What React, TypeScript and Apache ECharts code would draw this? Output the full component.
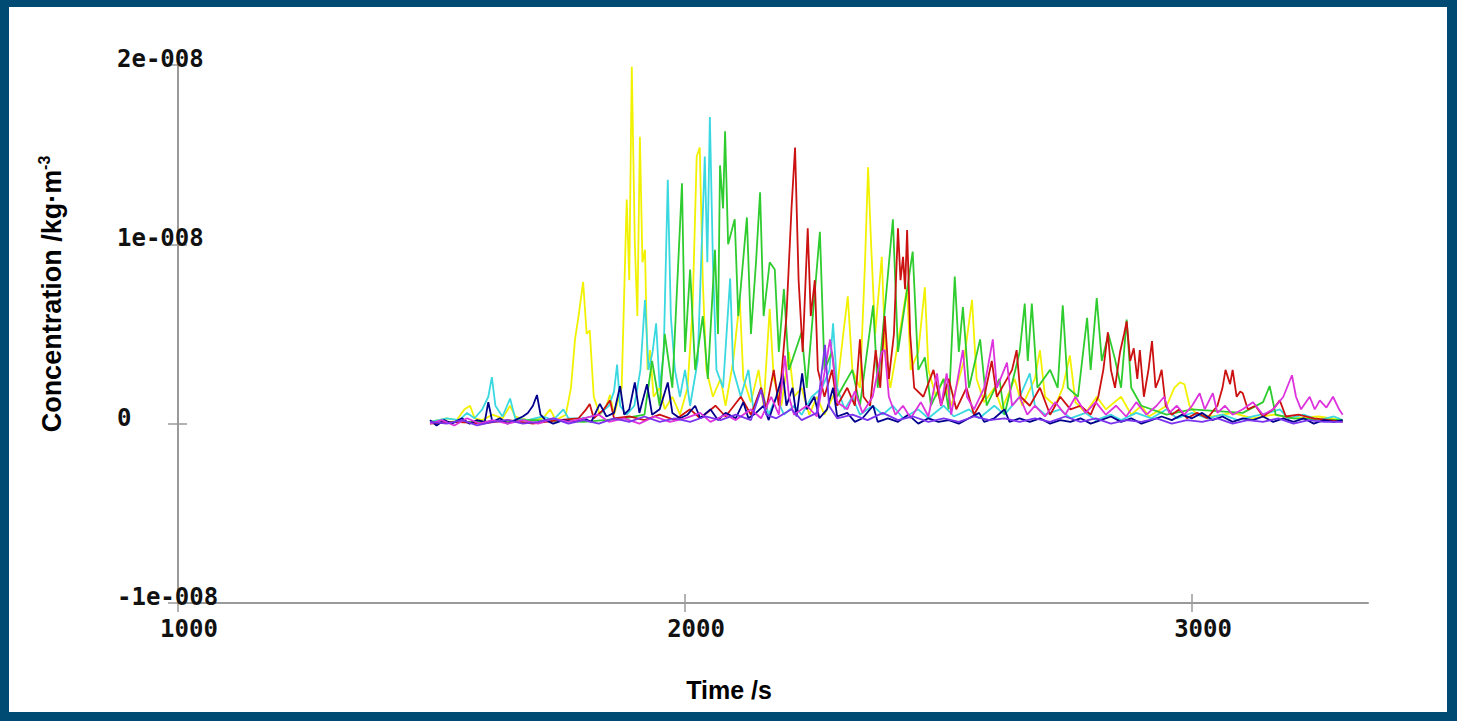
import React, { useEffect, useRef } from "react";
import * as echarts from "echarts";

// Values are in units of 1e-9 kg/m^3, time in seconds
const xTickValues = [1000, 2000, 3000];
const xTickLabels = ["1000", "2000", "3000"];
const yTickValues = [-10, 0, 10, 20];
const yTickLabels = ["-1e-008", "0", "1e-008", "2e-008"];

const yellowData: number[][] = [[1497,0.1],[1530,0.3],[1550,0.2],[1565,0.8],[1576,1.0],[1585,0.3],[1600,0.2],[1620,0.5],[1640,0.3],[1655,1.0],[1665,0.4],[1690,0.2],[1720,0.3],[1734,0.8],[1745,0.2],[1765,0.5],[1775,2.0],[1783,4.7],[1790,6.0],[1799,7.9],[1806,5.0],[1812,5.2],[1820,1.5],[1832,0.5],[1845,1.0],[1852,1.6],[1860,0.5],[1875,2.0],[1885,12.5],[1890,8.0],[1895,19.9],[1901,10],[1906,6],[1911,16.0],[1916,9],[1921,9.7],[1926,3],[1931,4.1],[1938,1.5],[1950,2.0],[1960,0.8],[1975,1.5],[1990,0.5],[2005,2.0],[2015,6.5],[2023,14.9],[2029,15.4],[2035,8.0],[2042,3.0],[2055,1.5],[2070,2.5],[2080,1.0],[2095,3.5],[2108,6.9],[2115,2.5],[2130,1.2],[2145,3.0],[2155,1.0],[2167,6.4],[2175,2.5],[2190,1.0],[2205,4.0],[2215,1.5],[2230,2.0],[2245,0.5],[2260,1.5],[2275,0.5],[2300,2.0],[2312,5.0],[2321,7.1],[2330,3.0],[2345,2.0],[2355,9.0],[2361,14.3],[2367,10.0],[2375,5.0],[2388,9.3],[2395,4.0],[2405,2.0],[2420,4.5],[2438,7.6],[2445,3.0],[2460,4.0],[2473,7.6],[2480,3.0],[2495,1.5],[2510,2.5],[2525,1.0],[2550,3.5],[2566,6.9],[2575,2.5],[2590,1.2],[2610,2.0],[2625,0.8],[2650,2.5],[2665,1.0],[2690,2.5],[2700,4.1],[2710,1.5],[2730,1.0],[2745,2.0],[2759,3.8],[2770,1.2],[2790,0.6],[2812,1.5],[2830,0.8],[2860,1.5],[2880,0.5],[2900,1.0],[2915,0.4],[2950,1.0],[2965,2.0],[2976,2.3],[2985,2.2],[2995,1.0],[3010,0.5],[3040,0.4],[3080,0.6],[3120,0.3],[3160,0.5],[3200,0.3],[3250,0.4],[3297,0.2]];

const cyanData: number[][] = [[1497,0.1],[1530,0.3],[1555,0.2],[1570,0.6],[1585,0.3],[1600,0.8],[1612,1.5],[1619,2.6],[1626,1.0],[1640,0.4],[1655,1.4],[1665,0.3],[1690,0.2],[1720,0.4],[1740,0.2],[1760,0.8],[1770,0.3],[1800,0.3],[1830,0.5],[1850,1.0],[1860,1.8],[1866,3.3],[1872,1.0],[1885,0.5],[1900,1.0],[1912,3.0],[1921,6.9],[1928,3.0],[1936,4.0],[1943,5.6],[1950,2.0],[1958,4.0],[1966,13.6],[1972,6.0],[1980,3.0],[1990,1.5],[2000,3.0],[2010,1.0],[2025,3.5],[2039,14.9],[2044,9.0],[2049,17.1],[2055,9.0],[2062,3.0],[2075,2.0],[2089,8.1],[2095,3.0],[2110,1.5],[2125,3.0],[2135,0.8],[2150,2.0],[2165,0.5],[2180,1.5],[2195,0.5],[2215,1.0],[2230,0.5],[2250,1.5],[2270,2.0],[2285,3.0],[2292,5.6],[2300,2.0],[2315,0.8],[2330,1.5],[2345,0.5],[2370,1.0],[2390,0.5],[2410,1.0],[2430,0.3],[2460,0.8],[2480,0.3],[2510,1.0],[2530,0.4],[2560,0.8],[2580,0.3],[2610,1.0],[2630,0.5],[2660,1.5],[2680,2.8],[2690,1.0],[2710,0.5],[2740,0.8],[2760,0.3],[2790,0.6],[2810,0.2],[2840,0.5],[2860,0.2],[2890,0.6],[2920,0.3],[2950,0.8],[2970,0.3],[3000,0.6],[3030,0.3],[3060,0.5],[3090,0.2],[3120,0.4],[3150,0.6],[3173,0.8],[3190,0.3],[3220,0.5],[3250,0.2],[3280,0.4],[3297,0.2]];

const greenData: number[][] = [[1497,0.1],[1600,0.1],[1700,0.2],[1800,0.1],[1880,0.3],[1920,0.5],[1935,3.5],[1950,1.0],[1960,5.0],[1975,2.0],[1994,13.4],[2000,4.0],[2010,8.6],[2020,3.0],[2035,6.0],[2045,2.5],[2059,9.7],[2065,5],[2069,14.4],[2075,12],[2079,16.3],[2085,10],[2098,11.4],[2105,6],[2122,11.5],[2130,5],[2140,9],[2148,12.9],[2155,6],[2167,9],[2177,8.6],[2185,4],[2195,7.5],[2205,3],[2230,5.1],[2240,2],[2266,10.7],[2275,3],[2290,4],[2300,1.5],[2330,3],[2345,1],[2371,6.6],[2380,2],[2410,11.4],[2420,4],[2449,9.6],[2460,3],[2473,3.7],[2485,1],[2510,2.5],[2520,0.8],[2532,8.2],[2540,4],[2548,6.5],[2560,2],[2582,4.7],[2595,1],[2620,2.5],[2630,0.5],[2660,4],[2670,6.7],[2676,3.5],[2684,6.7],[2695,2],[2720,3],[2735,2],[2745,6.6],[2755,2],[2775,1.5],[2793,5.9],[2800,3],[2812,7.0],[2822,3.5],[2835,5.0],[2848,3.6],[2860,2],[2871,5.8],[2880,2],[2900,1],[2950,0.5],[3000,0.8],[3100,0.6],[3140,1.2],[3153,2.1],[3165,0.5],[3200,0.3],[3297,0.2]];

const redData: number[][] = [[1497,0],[1550,0.1],[1600,0],[1650,0.2],[1700,0],[1750,0.2],[1790,0.3],[1805,0.8],[1812,1.1],[1820,0.3],[1840,0.8],[1852,1.3],[1860,0.3],[1890,0.4],[1920,0.2],[1950,0.5],[1980,0.2],[2010,0.8],[2030,0.3],[2060,1.0],[2080,0.4],[2110,1.5],[2130,0.5],[2150,2.0],[2160,0.8],[2175,3.0],[2185,1.0],[2200,6.0],[2210,12.0],[2217,15.4],[2224,8.0],[2232,4.0],[2242,10.9],[2248,6.0],[2256,8.0],[2262,3.0],[2275,1.5],[2290,3.0],[2300,1.0],[2320,2.0],[2335,1.0],[2345,4.7],[2352,1.5],[2365,1.0],[2376,4.1],[2385,2.0],[2394,6.0],[2402,2.5],[2412,5.0],[2420,10.9],[2425,8.0],[2430,9.3],[2434,7.5],[2438,10.8],[2444,5.0],[2452,2.0],[2470,1.5],[2490,3.0],[2505,1.0],[2520,2.5],[2535,0.8],[2555,2.0],[2570,0.5],[2590,1.5],[2605,3.5],[2615,1.5],[2635,2.5],[2645,3.0],[2654,4.1],[2662,1.5],[2680,1.0],[2700,2.0],[2720,0.5],[2740,1.5],[2760,0.8],[2780,1.0],[2800,0.5],[2815,1.5],[2825,3.0],[2834,5.1],[2840,3.0],[2848,2.0],[2858,4.0],[2866,5.0],[2871,5.7],[2878,3.5],[2885,4.2],[2892,2.5],[2897,4.1],[2905,1.5],[2914,3.0],[2921,4.6],[2928,2.0],[2935,2.5],[2940,3.0],[2948,1.0],[2960,0.5],[2975,0.8],[2990,0.3],[3010,0.6],[3030,0.3],[3050,1.0],[3060,2.0],[3066,3.0],[3075,2.2],[3080,3.0],[3088,1.5],[3095,1.8],[3100,1.7],[3110,0.8],[3125,1.0],[3140,0.4],[3160,0.8],[3173,1.3],[3185,0.4],[3210,0.5],[3240,0.3],[3270,0.2],[3297,0.1]];

const navyData: number[][] = [[1497,0.2],[1510,-0.1],[1525,0.2],[1540,0],[1560,0.3],[1575,0],[1590,0.2],[1605,0.1],[1612,1.2],[1620,0.1],[1635,0.3],[1650,0],[1665,0.2],[1680,0.4],[1690,0.6],[1700,1.0],[1708,1.6],[1715,0.5],[1725,0.2],[1740,0],[1760,0.2],[1780,0.1],[1800,0.3],[1815,0.1],[1832,1.1],[1845,0.4],[1860,0.6],[1872,2.1],[1880,0.5],[1890,0.8],[1901,2.3],[1910,0.6],[1925,2.2],[1935,0.5],[1950,0.8],[1966,2.3],[1975,0.6],[1990,0.3],[2005,0.5],[2020,1.0],[2030,0.3],[2050,0.8],[2065,0.2],[2080,0.6],[2100,0.3],[2115,1.2],[2125,0.3],[2140,0.6],[2155,1.0],[2165,0.2],[2180,1.5],[2193,2.8],[2200,1.0],[2212,2.0],[2220,0.4],[2231,2.8],[2240,0.8],[2255,1.5],[2265,0.3],[2280,0.8],[2292,2.0],[2300,0.4],[2320,0.6],[2335,0.1],[2350,0.3],[2371,1.0],[2380,0.1],[2400,0.3],[2420,0.1],[2440,0.5],[2460,0],[2480,0.3],[2500,0.1],[2520,0.2],[2540,0],[2560,0.3],[2580,0.6],[2590,0.1],[2610,0.3],[2630,0.8],[2640,0.1],[2660,0.3],[2680,0.1],[2700,0.3],[2720,0],[2740,0.2],[2760,0.1],[2780,0.3],[2800,0],[2820,0.2],[2840,0.4],[2860,0.1],[2880,0.3],[2900,0],[2920,0.2],[2940,0.4],[2960,0.2],[2980,0.5],[3000,0.3],[3020,0.6],[3040,0.2],[3060,0.4],[3080,0.1],[3100,0.3],[3120,0.2],[3140,0.4],[3160,0.1],[3180,0.3],[3200,0.1],[3220,0.3],[3240,0],[3260,0.2],[3280,0.1],[3297,0.2]];

const magentaData: number[][] = [[1497,0],[1520,0.2],[1545,-0.1],[1570,0.3],[1595,0],[1620,0.2],[1650,0],[1680,0.2],[1710,0],[1740,0.3],[1770,0.1],[1800,0.3],[1830,0.5],[1850,0.1],[1880,0.3],[1910,0],[1940,0.4],[1970,0.1],[2000,0.3],[2030,0.6],[2050,0.1],[2080,0.5],[2100,0.2],[2130,0.8],[2150,0.3],[2170,1.5],[2185,0.5],[2197,3.8],[2205,1.5],[2215,0.5],[2240,1.0],[2260,0.4],[2276,3.0],[2286,4.7],[2292,3.5],[2300,1.2],[2320,0.8],[2335,1.8],[2350,0.6],[2370,1.5],[2388,4.0],[2394,4.1],[2402,1.5],[2415,0.5],[2430,1.0],[2445,0.3],[2465,1.2],[2480,0.4],[2497,2.8],[2505,1.0],[2516,2.8],[2525,0.5],[2548,4.1],[2556,1.5],[2570,0.8],[2590,2.0],[2607,4.7],[2615,2.0],[2635,3.4],[2645,1.0],[2660,1.5],[2675,0.5],[2690,1.0],[2710,0.4],[2730,1.2],[2750,0.5],[2770,1.5],[2790,0.6],[2810,1.2],[2830,0.5],[2850,1.0],[2870,0.4],[2890,1.2],[2910,0.5],[2930,1.0],[2945,1.5],[2955,0.6],[2970,1.0],[2985,0.5],[3000,1.0],[3015,1.7],[3025,0.8],[3041,1.7],[3050,0.6],[3065,1.0],[3080,0.5],[3100,0.8],[3120,1.2],[3140,0.5],[3160,0.8],[3180,1.5],[3197,2.7],[3205,1.5],[3215,0.8],[3232,1.5],[3242,0.8],[3252,1.3],[3265,0.9],[3278,1.5],[3290,0.8],[3297,0.5]];

const purpleData: number[][] = [[1497,0.1],[1530,0],[1560,0.2],[1590,-0.1],[1620,0.1],[1650,0.2],[1680,0],[1710,0.1],[1740,0.3],[1770,0],[1800,0.2],[1830,0],[1860,0.3],[1890,0.1],[1920,0.4],[1950,0.1],[1980,0.3],[2010,0.1],[2040,0.4],[2070,0.2],[2100,0.5],[2130,0.2],[2150,1.9],[2160,0.5],[2180,0.3],[2210,0.8],[2230,0.2],[2260,0.6],[2276,4.4],[2284,1.0],[2300,0.3],[2330,0.5],[2360,0.2],[2390,0.6],[2420,0.2],[2450,0.4],[2480,0.1],[2510,0.3],[2540,0.1],[2570,0.4],[2600,0.2],[2630,0.3],[2660,0.1],[2690,0.3],[2720,0.1],[2750,0.4],[2780,0.1],[2810,0.3],[2840,0],[2870,0.2],[2900,0.1],[2930,0.3],[2960,0],[2990,0.2],[3020,0.1],[3050,0.3],[3080,0],[3110,0.2],[3140,0.1],[3170,0.3],[3200,0],[3230,0.2],[3260,0.1],[3297,0.1]];

const seriesList = [
  { name: "yellow", data: yellowData, color: "#f2f200" },
  { name: "cyan", data: cyanData, color: "#3ad8e0" },
  { name: "green", data: greenData, color: "#2ecc2e" },
  { name: "red", data: redData, color: "#cc1111" },
  { name: "navy", data: navyData, color: "#00008c" },
  { name: "magenta", data: magentaData, color: "#dd33dd" },
  { name: "purple", data: purpleData, color: "#7a33ee" },
];

const tickFont = '"DejaVu Sans Mono", monospace';
const titleFont = '"Liberation Sans", Arial, sans-serif';

export default function App() {
  const ref = useRef<HTMLDivElement>(null);
  useEffect(() => {
    const chart = echarts.init(ref.current!, null, { renderer: "svg" });
    const axisGray = "#9a9a9a";
    const xCommon = {
      type: "value",
      min: 1000,
      max: 3347,
      splitLine: { show: false },
    };
    const yCommon = {
      type: "value",
      min: -10,
      max: 20,
      interval: 10,
      splitLine: { show: false },
    };
    chart.setOption({
      animation: false,
      backgroundColor: "transparent",
      grid: { left: 178, right: 89, top: 65, bottom: 118, containLabel: false },
      xAxis: [
        {
          ...xCommon,
          position: "bottom",
          axisLine: { show: true, onZero: false, lineStyle: { color: axisGray, width: 2 } },
          axisTick: { show: true, length: 9, customValues: xTickValues, lineStyle: { color: axisGray, width: 1.5 } },
          axisLabel: {
            show: true,
            customValues: xTickValues,
            formatter: (v: number) => xTickLabels[xTickValues.indexOf(v)] ?? "",
            fontFamily: tickFont,
            fontWeight: "bold",
            fontSize: 24,
            color: "#111",
            margin: 14,
            padding: [0, 0, 0, 22],
          },
        },
        {
          ...xCommon,
          position: "bottom",
          axisLine: { show: false, onZero: false },
          axisTick: { show: true, inside: true, length: 9, customValues: xTickValues, lineStyle: { color: axisGray, width: 1.5 } },
          axisLabel: { show: false },
        },
      ],
      yAxis: [
        {
          ...yCommon,
          position: "left",
          axisLine: { show: true, onZero: false, lineStyle: { color: axisGray, width: 2 } },
          axisTick: { show: true, length: 10, lineStyle: { color: axisGray, width: 1.5 } },
          axisLabel: {
            show: true,
            formatter: (v: number) => yTickLabels[yTickValues.indexOf(v)] ?? "",
            fontFamily: tickFont,
            fontWeight: "bold",
            fontSize: 24,
            color: "#111",
            align: "left",
            verticalAlign: "bottom",
            lineHeight: 12,
            margin: 61,
          },
        },
        {
          ...yCommon,
          position: "left",
          axisLine: { show: false, onZero: false },
          axisTick: { show: true, inside: true, length: 9, lineStyle: { color: axisGray, width: 1.5 } },
          axisLabel: { show: false },
        },
      ],
      graphic: [
        {
          type: "text",
          x: 729,
          y: 690,
          style: {
            text: "Time /s",
            fontFamily: titleFont,
            fontWeight: "bold",
            fontSize: 25,
            fill: "#000",
            align: "center",
            verticalAlign: "middle",
          },
        },
        {
          type: "text",
          x: 52,
          y: 294,
          rotation: Math.PI / 2,
          style: {
            text: "{a|Concentration /kg·m}{b|-3}",
            align: "center",
            verticalAlign: "middle",
            fill: "#000",
            rich: {
              a: { fontFamily: titleFont, fontWeight: "bold", fontSize: 27, fill: "#000", lineHeight: 32 },
              b: { fontFamily: titleFont, fontWeight: "bold", fontSize: 16, fill: "#000", lineHeight: 32, verticalAlign: "top" },
            },
          },
        },
      ],
      series: seriesList.map((s) => ({
        name: s.name,
        type: "line",
        xAxisIndex: 0,
        yAxisIndex: 0,
        data: s.data,
        showSymbol: false,
        symbol: "none",
        silent: true,
        lineStyle: { color: s.color, width: 1.8 },
        itemStyle: { color: s.color },
      })),
    });
    return () => chart.dispose();
  }, []);
  return (
    <div style={{ position: "fixed", left: 0, top: 0, width: 1457, height: 721, background: "#004B74" }}>
      <div style={{ position: "absolute", left: 9, top: 7, width: 1438, height: 705, background: "#ffffff" }} />
      <div ref={ref} style={{ position: "absolute", left: 0, top: 0, width: 1457, height: 721 }} />
    </div>
  );
}
